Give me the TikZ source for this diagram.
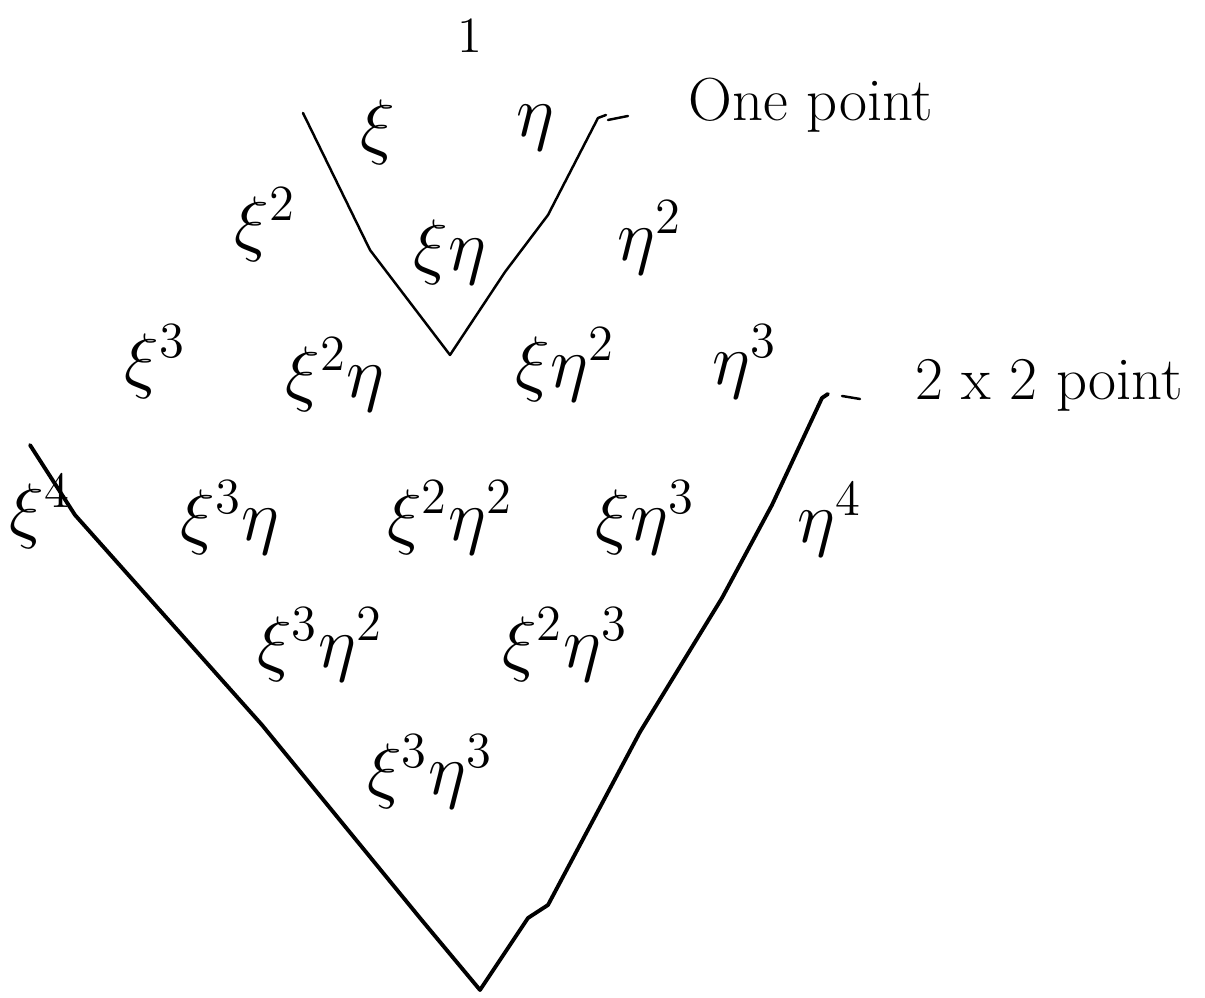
\documentclass[tikz,border=0pt]{standalone}
\usepackage{amsmath,amssymb}
\usepackage{tikz}
\usetikzlibrary{positioning}

\begin{document}
\begin{tikzpicture}[x=0.01cm,y=-0.01cm,
  mono/.style={inner sep=0pt,font=\huge},
  note/.style={inner sep=0pt,font=\LARGE,anchor=west},
  thin stroke/.style={line width=0.7pt,line cap=round,line join=round},
  thick stroke/.style={line width=1.1pt,line cap=round,line join=round}
]
  \useasboundingbox (0,0) rectangle (1205,998);
  % monomials, one row per degree
  \node[mono,font=\Large] (m00) at (470,36) {$1$};
  \node[mono] (m10) at (378,132) {$\xi$};
  \node[mono] (m01) at (535,128) {$\eta$};
  \node[mono] (m20) at (265,225) {$\xi^2$};
  \node[mono] (m11) at (450,252) {$\xi\eta$};
  \node[mono] (m02) at (650,238) {$\eta^2$};
  \node[mono] (m30) at (155,362) {$\xi^3$};
  \node[mono] (m21) at (335,375) {$\xi^2\eta$};
  \node[mono] (m12) at (565,365) {$\xi\eta^2$};
  \node[mono] (m03) at (745,362) {$\eta^3$};
  \node[mono] (m40) at (40,512) {$\xi^4$};
  \node[mono] (m31) at (230,518) {$\xi^3\eta$};
  \node[mono] (m22) at (450,518) {$\xi^2\eta^2$};
  \node[mono] (m13) at (645,518) {$\xi\eta^3$};
  \node[mono] (m04) at (830,520) {$\eta^4$};
  \node[mono] (m32) at (320,645) {$\xi^3\eta^2$};
  \node[mono] (m23) at (565,645) {$\xi^2\eta^3$};
  \node[mono] (m33) at (430,772) {$\xi^3\eta^3$};
  % the two V's
  \coordinate (sl) at (303,113);
  \coordinate (sb) at (450,355);
  \coordinate (sr) at (598,118);
  \coordinate (bl) at (30,445);
  \coordinate (bb) at (480,990);
  \coordinate (br) at (822,398);
  \draw[thin stroke] (sl) -- (370,250) -- (sb) -- (505,272) -- (548,215) -- (sr) -- ++(8,-3);
  \draw[thick stroke] (bl) -- (75,515) -- (262,725) -- (420,918) -- (bb)
    -- (528,918) -- (548,905) -- (640,732) -- (722,598) -- (772,505) -- (br) -- ++(6,-4);
  % notes
  \node[note] (one pt) at (688,105) {One point};
  \node[note] (two pt) at (915,385) {2 x 2 point};
  \coordinate (d1) at (608,120);
  \coordinate (d2) at (842,396);
  \draw[thin stroke] (d1) -- ++(20,-4);
  \draw[thin stroke] (d2) -- ++(18,3);
\end{tikzpicture}
\end{document}
